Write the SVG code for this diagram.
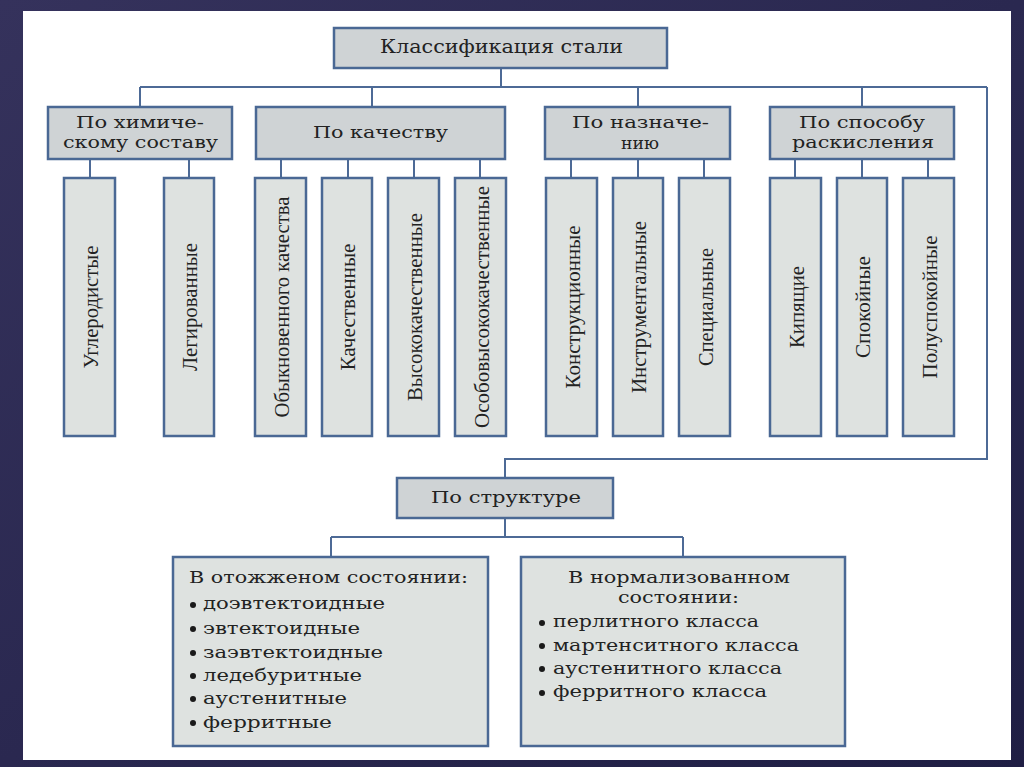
<svg xmlns="http://www.w3.org/2000/svg" width="1024" height="767" viewBox="0 0 1024 767">
<defs>
<linearGradient id="frame" x1="0" y1="0" x2="1" y2="1">
<stop offset="0" stop-color="#35325c"/>
<stop offset="1" stop-color="#1f1e44"/>
</linearGradient>
</defs>
<style>
.hdr{fill:#cfd3d5;stroke:#4a6894;stroke-width:2.5}
.leaf{fill:#dee2e0;stroke:#4a6894;stroke-width:2.5}
.con{fill:none;stroke:#4d6a96;stroke-width:2}
.t{font-family:"DejaVu Serif","Liberation Serif",serif;fill:#222;font-size:16px}
.tm{text-anchor:middle}
.v{font-family:"Liberation Serif","Times New Roman",serif;fill:#222;font-size:22px;text-anchor:middle}
.b{font-size:17px}
.dot{fill:#1a1a1a}
</style>
<rect x="0" y="0" width="1024" height="767" fill="url(#frame)"/>
<rect x="23" y="11" width="988" height="749" fill="#ffffff"/>

<g id="connectors" class="con">
<path d="M501,68 V87"/>
<path d="M140,87 H987"/>
<path d="M140,87 V107 M372,87 V107 M638,87 V107 M862,87 V107"/>
<path d="M987,87 V459 H505 V478"/>
<path d="M90,159 V178 M189,159 V178"/>
<path d="M281,159 V178 M348,159 V178 M414,159 V178 M480,159 V178"/>
<path d="M571,159 V178 M638,159 V178 M704,159 V178"/>
<path d="M795,159 V178 M862,159 V178 M928,159 V178"/>
<path d="M505,518 V537 M331,537 H683 M331,537 V557 M683,537 V557"/>
</g>

<g id="root">
<rect class="hdr" x="334" y="28" width="333" height="40"/>
<text class="t tm" x="501.5" y="53" textLength="243" lengthAdjust="spacingAndGlyphs" style="font-size:18px">Классификация стали</text>
</g>

<g id="chem">
<rect class="hdr" x="48" y="107" width="184" height="52"/>
<text class="t tm" x="140" y="128" textLength="128" lengthAdjust="spacingAndGlyphs">По химиче-</text>
<text class="t tm" x="140.5" y="148" textLength="155" lengthAdjust="spacingAndGlyphs">скому составу</text>
</g>
<g id="quality">
<rect class="hdr" x="256" y="107" width="249" height="52"/>
<text class="t tm" x="380.5" y="138" textLength="135" lengthAdjust="spacingAndGlyphs">По качеству</text>
</g>
<g id="purpose">
<rect class="hdr" x="545" y="107" width="185" height="52"/>
<text class="t tm" x="640.5" y="128" textLength="137" lengthAdjust="spacingAndGlyphs">По назначе-</text>
<text class="t tm" x="640" y="149" textLength="38" lengthAdjust="spacingAndGlyphs">нию</text>
</g>
<g id="deox">
<rect class="hdr" x="770" y="107" width="184" height="52"/>
<text class="t tm" x="862" y="128" textLength="126" lengthAdjust="spacingAndGlyphs">По способу</text>
<text class="t tm" x="863" y="148" textLength="142" lengthAdjust="spacingAndGlyphs">раскисления</text>
</g>

<g id="leaf-carbon">
<rect class="leaf" x="64" y="178" width="51" height="258"/>
<text class="v" transform="translate(97.5,307) rotate(-90)" textLength="123" lengthAdjust="spacingAndGlyphs">Углеродистые</text>
</g>
<g id="leaf-alloy">
<rect class="leaf" x="164" y="178" width="50" height="258"/>
<text class="v" transform="translate(197,307) rotate(-90)" textLength="128" lengthAdjust="spacingAndGlyphs">Легированные</text>
</g>
<g id="leaf-ordinary">
<rect class="leaf" x="255" y="178" width="51" height="258"/>
<text class="v" transform="translate(288.5,307) rotate(-90)" textLength="221" lengthAdjust="spacingAndGlyphs">Обыкновенного качества</text>
</g>
<g id="leaf-quality">
<rect class="leaf" x="322" y="178" width="50" height="258"/>
<text class="v" transform="translate(355,307) rotate(-90)" textLength="127" lengthAdjust="spacingAndGlyphs">Качественные</text>
</g>
<g id="leaf-high">
<rect class="leaf" x="388" y="178" width="51" height="258"/>
<text class="v" transform="translate(421.5,307) rotate(-90)" textLength="188" lengthAdjust="spacingAndGlyphs">Высококачественные</text>
</g>
<g id="leaf-extra">
<rect class="leaf" x="455" y="178" width="51" height="258"/>
<text class="v" transform="translate(488.5,307) rotate(-90)" textLength="242" lengthAdjust="spacingAndGlyphs">Особовысококачественные</text>
</g>
<g id="leaf-struct">
<rect class="leaf" x="546" y="178" width="51" height="258"/>
<text class="v" transform="translate(579.5,307) rotate(-90)" textLength="163" lengthAdjust="spacingAndGlyphs">Конструкционные</text>
</g>
<g id="leaf-tool">
<rect class="leaf" x="613" y="178" width="50" height="258"/>
<text class="v" transform="translate(646,307) rotate(-90)" textLength="172" lengthAdjust="spacingAndGlyphs">Инструментальные</text>
</g>
<g id="leaf-special">
<rect class="leaf" x="679" y="178" width="51" height="258"/>
<text class="v" transform="translate(712.5,307) rotate(-90)" textLength="118" lengthAdjust="spacingAndGlyphs">Специальные</text>
</g>
<g id="leaf-boiling">
<rect class="leaf" x="770" y="178" width="51" height="258"/>
<text class="v" transform="translate(803.5,307) rotate(-90)" textLength="82" lengthAdjust="spacingAndGlyphs">Кипящие</text>
</g>
<g id="leaf-killed">
<rect class="leaf" x="837" y="178" width="50" height="258"/>
<text class="v" transform="translate(870,307) rotate(-90)" textLength="102" lengthAdjust="spacingAndGlyphs">Спокойные</text>
</g>
<g id="leaf-semikilled">
<rect class="leaf" x="903" y="178" width="51" height="258"/>
<text class="v" transform="translate(936.5,307) rotate(-90)" textLength="143" lengthAdjust="spacingAndGlyphs">Полуспокойные</text>
</g>

<g id="structure">
<rect class="hdr" x="397" y="478" width="216" height="40"/>
<text class="t tm" x="506" y="503" textLength="150" lengthAdjust="spacingAndGlyphs">По структуре</text>
</g>

<g id="annealed">
<rect class="leaf" x="173" y="557" width="315" height="189"/>
<text class="t b" x="189" y="583" textLength="279" lengthAdjust="spacingAndGlyphs">В отожженом состоянии:</text>
<circle class="dot" cx="193" cy="605" r="3"/>
<text class="t b" x="203" y="609" textLength="182" lengthAdjust="spacingAndGlyphs">доэвтектоидные</text>
<circle class="dot" cx="193" cy="629" r="3"/>
<text class="t b" x="203" y="634" textLength="157" lengthAdjust="spacingAndGlyphs">эвтектоидные</text>
<circle class="dot" cx="193" cy="653" r="3"/>
<text class="t b" x="203" y="658" textLength="180" lengthAdjust="spacingAndGlyphs">заэвтектоидные</text>
<circle class="dot" cx="193" cy="676" r="3"/>
<text class="t b" x="203" y="681" textLength="159" lengthAdjust="spacingAndGlyphs">ледебуритные</text>
<circle class="dot" cx="193" cy="699" r="3"/>
<text class="t b" x="203" y="704" textLength="144" lengthAdjust="spacingAndGlyphs">аустенитные</text>
<circle class="dot" cx="193" cy="723" r="3"/>
<text class="t b" x="203" y="728" textLength="129" lengthAdjust="spacingAndGlyphs">ферритные</text>
</g>

<g id="normalized">
<rect class="leaf" x="521" y="557" width="324" height="189"/>
<text class="t b tm" x="679" y="583" textLength="222" lengthAdjust="spacingAndGlyphs">В нормализованном</text>
<text class="t b tm" x="678.5" y="603" textLength="121" lengthAdjust="spacingAndGlyphs">состоянии:</text>
<circle class="dot" cx="542" cy="623" r="3"/>
<text class="t b" x="553" y="627" textLength="206" lengthAdjust="spacingAndGlyphs">перлитного класса</text>
<circle class="dot" cx="542" cy="646" r="3"/>
<text class="t b" x="553" y="651" textLength="246" lengthAdjust="spacingAndGlyphs">мартенситного класса</text>
<circle class="dot" cx="542" cy="669" r="3"/>
<text class="t b" x="553" y="674" textLength="229" lengthAdjust="spacingAndGlyphs">аустенитного класса</text>
<circle class="dot" cx="542" cy="693" r="3"/>
<text class="t b" x="553" y="697" textLength="214" lengthAdjust="spacingAndGlyphs">ферритного класса</text>
</g>
</svg>
